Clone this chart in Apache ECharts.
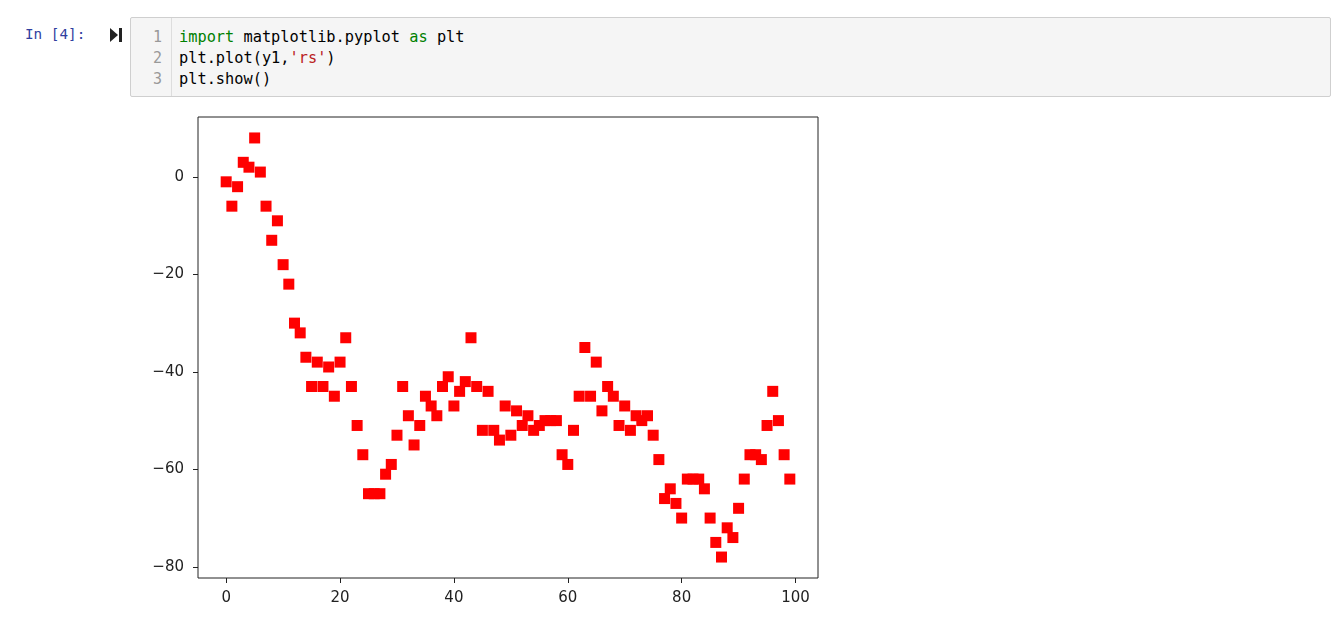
<!DOCTYPE html>
<html>
<head>
<meta charset="utf-8">
<script src="https://cdn.jsdelivr.net/npm/echarts@6/dist/echarts.min.js"></script>
<style>
  html, body { margin: 0; padding: 0; background: #fff; width: 1343px; height: 634px; overflow: hidden; }
  #chart { position: absolute; left: 0; top: 0; width: 1343px; height: 634px; }
  .prompt { position: absolute; left: 25px; top: 26px; font-family: "DejaVu Sans Mono", monospace; font-size: 14.3px; color: #303f9f; }
  .runicon { position: absolute; left: 110px; top: 28px; width: 0; height: 0; border-top: 7px solid transparent; border-bottom: 7px solid transparent; border-left: 8px solid #222; }
  .runbar { position: absolute; left: 119px; top: 28px; width: 3px; height: 14px; background: #222; }
  .cell { position: absolute; left: 130px; top: 17px; width: 1199px; height: 78px; background: #f5f5f5; border: 1px solid #cfcfcf; border-radius: 2px; }
  .gutter { position: absolute; left: 0; top: 0; width: 40px; height: 78px; border-right: 1px solid #dddddd; }
  .ln { position: absolute; right: 9px; font-family: "DejaVu Sans Mono", monospace; font-size: 15px; color: #999; }
  .code { position: absolute; left: 48px; font-family: "DejaVu Sans Mono", monospace; font-size: 15.3px; color: #000; white-space: pre; }
  .kw { color: #008000; }
  .str { color: #ba2121; }
</style>
</head>
<body>
<div class="prompt">In [4]:</div>
<div class="runicon"></div><div class="runbar"></div>
<div class="cell">
  <div class="gutter">
    <div class="ln" style="top:10px">1</div>
    <div class="ln" style="top:31px">2</div>
    <div class="ln" style="top:52px">3</div>
  </div>
  <div class="code" style="top:10px"><span class="kw">import</span> matplotlib.pyplot <span class="kw">as</span> plt</div>
  <div class="code" style="top:31px">plt.plot(y1,<span class="str">'rs'</span>)</div>
  <div class="code" style="top:52px">plt.show()</div>
</div>
<div id="chart"></div>
<script>
const yValues = [
  -1, -6, -2, 3, 2, 8, 1, -6, -13, -9,
  -18, -22, -30, -32, -37, -43, -38, -43, -39, -45,
  -38, -33, -43, -51, -57, -65, -65, -65, -61, -59,
  -53, -43, -49, -55, -51, -45, -47, -49, -43, -41,
  -47, -44, -42, -33, -43, -52, -44, -52, -54, -47,
  -53, -48, -51, -49, -52, -51, -50, -50, -50, -57,
  -59, -52, -45, -35, -45, -38, -48, -43, -45, -51,
  -47, -52, -49, -50, -49, -53, -58, -66, -64, -67,
  -70, -62, -62, -62, -64, -70, -75, -78, -72, -74,
  -68, -62, -57, -57, -58, -51, -44, -50, -57, -62
];
const xTicks = [0, 20, 40, 60, 80, 100];
const yTicks = [0, -20, -40, -60, -80];

const points = yValues.map((v, i) => [i, v]);
const n = yValues.length;
const yMinD = Math.min(...yValues), yMaxD = Math.max(...yValues);
const xPad = (n - 1) * 0.05, yPad = (yMaxD - yMinD) * 0.05;

const chart = echarts.init(document.getElementById('chart'), null, { renderer: 'canvas' });
const labelStyle = { fontFamily: 'DejaVu Sans', fontSize: 15, color: '#222' };
chart.setOption({
  animation: false,
  grid: { left: 198, top: 117, right: 525, bottom: 56, show: true, borderColor: '#222', borderWidth: 1, backgroundColor: 'transparent' },
  xAxis: {
    type: 'value', min: -xPad, max: (n - 1) + xPad,
    axisLine: { show: false, onZero: false },
    splitLine: { show: false },
    axisTick: { show: true, length: 5, inside: false, customValues: xTicks, lineStyle: { color: '#222' } },
    axisLabel: Object.assign({ customValues: xTicks, margin: 13 }, labelStyle)
  },
  yAxis: {
    type: 'value', min: yMinD - yPad, max: yMaxD + yPad,
    axisLine: { show: false, onZero: false },
    splitLine: { show: false },
    axisTick: { show: true, length: 5, inside: false, customValues: yTicks, lineStyle: { color: '#222' } },
    axisLabel: Object.assign({ customValues: yTicks, margin: 14, formatter: v => (v < 0 ? '\u2212' + Math.abs(v) : String(v)) }, labelStyle)
  },
  series: [{
    type: 'scatter',
    data: points,
    symbol: 'rect',
    symbolSize: 11,
    itemStyle: { color: '#ff0000', opacity: 1 }
  }]
});
</script>
</body>
</html>
